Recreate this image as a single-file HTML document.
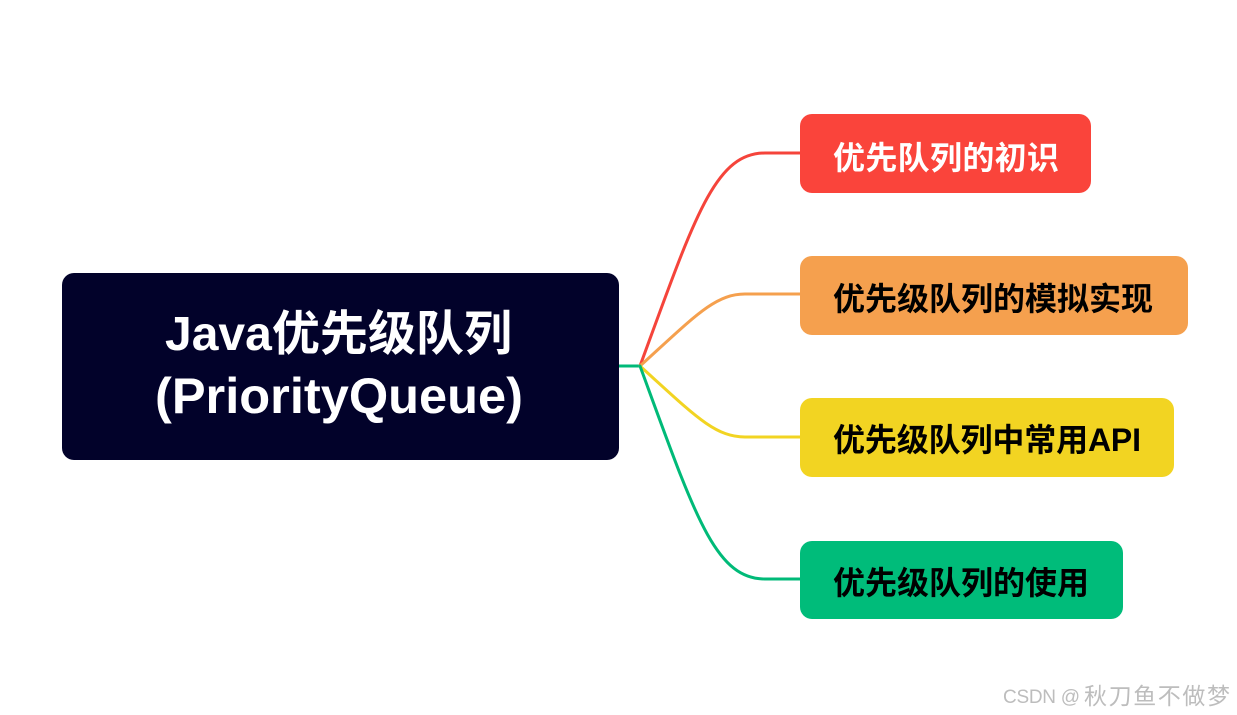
<!DOCTYPE html>
<html>
<head>
<meta charset="utf-8">
<style>
  html, body { margin: 0; padding: 0; background: #ffffff; }
  body { width: 1237px; height: 715px; overflow: hidden; }
  svg { display: block; }
  .t { font-family: "Liberation Sans", "Noto Sans CJK SC", sans-serif; font-weight: bold; }
  .w { font-family: "Liberation Sans", "Noto Sans CJK SC", sans-serif; }
</style>
</head>
<body>
<svg width="1237" height="715" viewBox="0 0 1237 715" xmlns="http://www.w3.org/2000/svg">
  <rect x="0" y="0" width="1237" height="715" fill="#ffffff"/>

  <!-- connectors -->
  <g fill="none" stroke-width="3" stroke-linecap="round">
    <path d="M619 366 L640 366" stroke="#00BA78"/>
    <path d="M640 366 C 695 216, 715 153, 765 153 L 800 153" stroke="#F5443B"/>
    <path d="M640 366 C 695 316, 715 294, 745 294 L 800 294" stroke="#F5A04E"/>
    <path d="M640 366 C 695 416, 715 437, 745 437 L 800 437" stroke="#F2D422"/>
    <path d="M640 366 C 695 516, 715 579, 765 579 L 800 579" stroke="#00BA78"/>
  </g>

  <!-- main node -->
  <rect x="62" y="273" width="557" height="187" rx="12" ry="12" fill="#02022A"/>
  <text class="t" x="165" y="350" font-size="48" fill="#ffffff" textLength="347" lengthAdjust="spacingAndGlyphs">Java优先级队列</text>
  <text class="t" x="155" y="413" font-size="50" fill="#ffffff" textLength="368" lengthAdjust="spacingAndGlyphs">(PriorityQueue)</text>

  <!-- child nodes -->
  <rect x="800" y="114" width="291" height="79" rx="12" ry="12" fill="#FA443B"/>
  <text class="t" x="833" y="169" font-size="32" fill="#ffffff" textLength="226" lengthAdjust="spacing">优先队列的初识</text>

  <rect x="800" y="256" width="388" height="79" rx="12" ry="12" fill="#F5A04E"/>
  <text class="t" x="833" y="310" font-size="32" fill="#000000" textLength="320" lengthAdjust="spacing">优先级队列的模拟实现</text>

  <rect x="800" y="398" width="374" height="79" rx="12" ry="12" fill="#F2D422"/>
  <text class="t" x="833" y="451" font-size="32" fill="#000000" textLength="308" lengthAdjust="spacing">优先级队列中常用API</text>

  <rect x="800" y="541" width="323" height="78" rx="12" ry="12" fill="#00BC7A"/>
  <text class="t" x="833" y="594" font-size="32" fill="#000000" textLength="256" lengthAdjust="spacing">优先级队列的使用</text>

  <!-- watermark -->
  <text class="w" x="1003" y="703" font-size="19" fill="#bdbdbd" textLength="77" lengthAdjust="spacing">CSDN @</text>
  <text class="w" x="1084" y="704" font-size="23" fill="#bdbdbd" textLength="146" lengthAdjust="spacing">秋刀鱼不做梦</text>
</svg>
</body>
</html>
